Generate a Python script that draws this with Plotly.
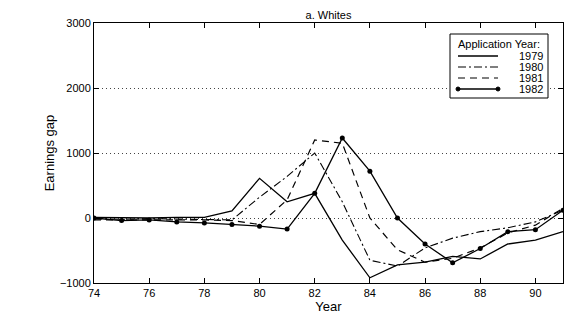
import plotly.graph_objects as go

years = list(range(74, 92))
gap_1979 = [10, 0, 0, 10, 10, 110, 610, 250, 380, -340, -920, -720, -680, -590, -630, -400, -340, -210]
gap_1980 = [-10, -20, -10, -20, -30, -30, 320, 640, 1000, 250, -650, -740, -460, -310, -210, -150, -60, 120]
gap_1981 = [-30, -30, -20, -20, -30, -40, -100, 280, 1200, 1150, 0, -490, -680, -620, -460, -230, -110, 150]
gap_1982 = [0, -40, -30, -60, -75, -100, -125, -170, 380, 1230, 720, 0, -400, -690, -470, -210, -180, 120]
series_names = ["1979", "1980", "1981", "1982"]
legend_title = "Application Year:"

font = "Liberation Sans, Arial, sans-serif"
styles = [
    dict(color="black", width=1.3, dash="solid"),
    dict(color="black", width=1.1, dash="8px,3px,2px,3px"),
    dict(color="black", width=1.2, dash="7px,5px"),
    dict(color="black", width=1.3, dash="solid"),
]
data = [gap_1979, gap_1980, gap_1981, gap_1982]

fig = go.Figure()
for i, (name, vals) in enumerate(zip(series_names, data)):
    fig.add_trace(go.Scatter(
        x=years, y=vals, name=name,
        mode="lines+markers" if i == 3 else "lines",
        line=styles[i], marker=dict(color="black", size=5),
        showlegend=False))

# plot area in pixels: x 94..563, y 23..283
L, R, T, B = 94, 563, 23, 283
def px(x):
    return (x - L) / (R - L)
def py(y):
    return (B - y) / (B - T)

shapes = []
annotations = []
# legend box
shapes.append(dict(type="rect", xref="paper", yref="paper",
                   x0=px(450), x1=px(548), y0=py(98), y1=py(34),
                   line=dict(color="black", width=1), fillcolor="white", layer="above"))
annotations.append(dict(text=legend_title, xref="paper", yref="paper",
                        x=px(456), y=py(44), xanchor="left", yanchor="middle",
                        showarrow=False, font=dict(family=font, size=11, color="black")))
for i, name in enumerate(series_names):
    yy = 56 + 11 * i
    shapes.append(dict(type="line", xref="paper", yref="paper",
                       x0=px(458), x1=px(498), y0=py(yy), y1=py(yy),
                       line=styles[i], layer="above"))
    if i == 3:
        for cx in (458, 498):
            shapes.append(dict(type="circle", xref="paper", yref="paper",
                               x0=px(cx - 2), x1=px(cx + 2), y0=py(yy + 2), y1=py(yy - 2),
                               line=dict(color="black", width=1), fillcolor="black",
                               layer="above"))
    annotations.append(dict(text=name, xref="paper", yref="paper",
                            x=px(545), y=py(yy), xanchor="right", yanchor="middle",
                            showarrow=False, font=dict(family=font, size=11, color="black")))

fig.update_layout(
    width=587, height=335,
    margin=dict(l=L, r=587 - R, t=T, b=335 - B),
    paper_bgcolor="white", plot_bgcolor="white",
    font=dict(family=font, size=11, color="black"),
    title=dict(text="a. Whites", x=0.5, xref="paper", xanchor="center",
               y=1, yref="paper", yanchor="bottom", pad=dict(b=4),
               font=dict(family=font, size=11, color="black")),
    showlegend=False,
    shapes=shapes,
    annotations=annotations,
)
fig.update_xaxes(range=[74, 91], tickvals=list(range(74, 92, 2)),
                 ticks="inside", ticklen=5, tickcolor="black",
                 showline=True, linecolor="black", linewidth=1, mirror="ticks",
                 showgrid=False, zeroline=False,
                 title=dict(text="Year", standoff=2))
fig.update_yaxes(range=[-1000, 3000], tickvals=[-1000, 0, 1000, 2000, 3000],
                 ticks="inside", ticklen=5, tickcolor="black",
                 showline=True, linecolor="black", linewidth=1, mirror="ticks",
                 showgrid=True, gridcolor="#444", gridwidth=1, griddash="1px,3px",
                 zeroline=False,
                 title=dict(text="Earnings gap", standoff=2))

fig.write_html("out.html")
